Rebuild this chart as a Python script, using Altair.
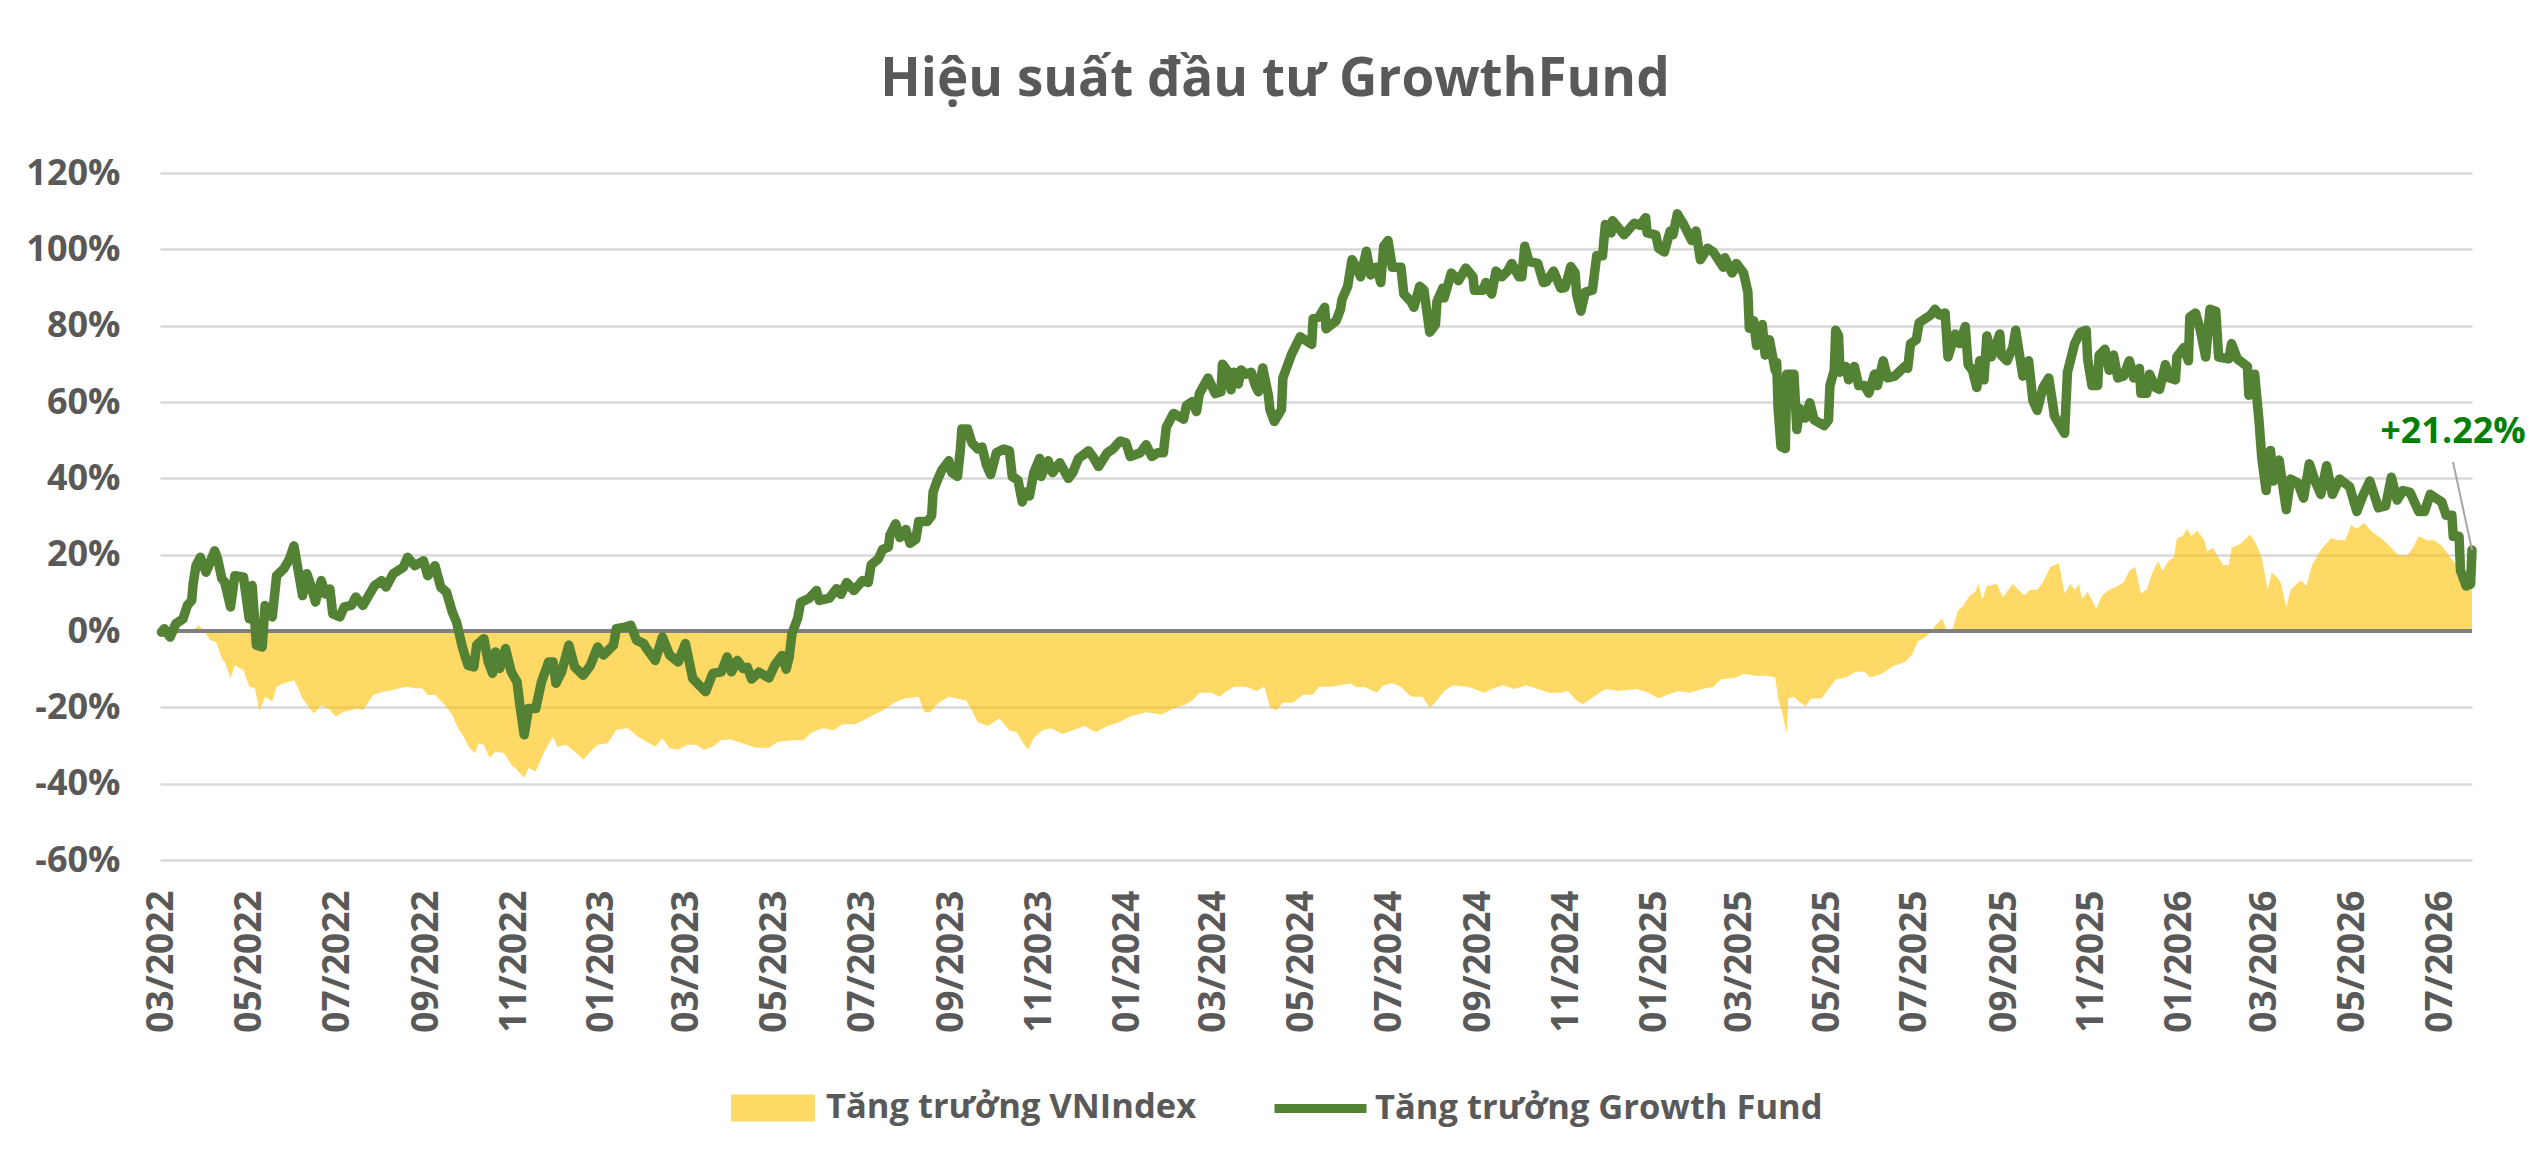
import pandas as pd
import altair as alt

# ---------------- data ----------------
START = "2022-03-01"  # day 0 of the series

TITLE = "Hiệu suất đầu tư GrowthFund"
VN_NAME = "Tăng trưởng VNIndex"
GF_NAME = "Tăng trưởng Growth Fund"

# Growth Fund cumulative growth: (days since START, percent)
GF_POINTS = [
    (0, -0.3), (2, 0.6), (6, -1.6), (10, 1.9), (15, 3.2), (18, 6.7), (21, 8.0), (22, 12.3), (24, 17.1), (27, 19.3),
    (31, 15.4), (37, 21.0), (39, 18.9), (42, 13.7), (44, 12.8), (48, 6.3), (51, 14.5), (57, 14.1), (61, 3.2), (63, 11.9),
    (66, -3.7), (70, -4.2), (72, 6.7), (77, 3.7), (80, 14.5), (85, 16.3), (89, 18.9), (92, 22.3), (94, 18.0), (98, 9.3),
    (101, 15.0), (103, 12.8), (107, 7.6), (111, 13.2), (114, 9.7), (117, 11.0), (119, 4.5), (124, 3.7), (127, 6.3), (132, 6.7),
    (135, 8.9), (140, 6.7), (148, 11.9), (153, 13.2), (156, 11.5), (161, 15.0), (168, 16.7), (171, 19.3), (176, 17.1), (182, 18.4),
    (185, 14.5), (190, 17.1), (194, 11.5), (198, 10.2), (202, 5.0), (205, 2.3), (209, -4.2), (213, -9.0), (217, -9.4), (219, -3.7),
    (224, -2.0), (227, -8.1), (230, -11.1), (232, -5.5), (235, -9.8), (239, -4.6), (243, -10.7), (247, -13.3), (249, -19.4), (252, -27.2),
    (255, -20.3), (260, -20.3), (264, -13.3), (269, -8.1), (272, -8.1), (274, -13.7), (278, -10.7), (283, -3.7), (287, -9.4), (293, -11.6),
    (298, -9.0), (303, -4.2), (307, -6.3), (314, -3.7), (316, 0.6), (322, 1.0), (326, 1.5), (330, -2.4), (335, -3.3), (337, -4.6),
    (343, -7.7), (348, -1.6), (353, -6.3), (359, -8.1), (364, -3.3), (369, -12.4), (378, -15.9), (383, -11.1), (389, -10.7), (393, -6.8),
    (396, -10.7), (400, -7.7), (404, -9.8),
    (407, -9.5), (410, -12.6), (415, -10.8), (422, -12.3), (426, -9.0), (431, -6.4), (434, -10.0), (436, -6.9), (438, -0.7), (442, 3.4),
    (444, 7.5), (450, 8.6), (455, 10.6), (457, 8.0), (464, 8.6), (469, 11.1), (472, 9.6), (476, 12.7), (481, 10.6), (487, 13.2),
    (491, 12.7), (493, 17.3), (498, 18.9), (501, 21.4), (505, 22.0), (506, 25.1), (510, 28.1), (513, 24.5), (517, 26.6), (520, 23.0),
    (524, 24.0), (526, 28.7), (532, 28.7), (535, 30.2), (536, 36.4), (539, 39.5), (542, 42.1), (547, 44.6), (549, 41.5), (553, 40.5),
    (555, 47.7), (556, 52.9), (560, 52.9), (563, 49.3), (567, 47.7), (570, 48.2), (573, 43.6), (576, 41.0), (580, 46.7), (585, 47.7),
    (589, 47.2), (591, 40.5), (595, 39.5), (598, 33.8), (600, 36.4), (603, 35.4), (606, 41.5), (610, 45.2), (611, 40.5), (616, 44.6),
    (619, 41.5), (624, 44.1), (630, 40.0), (633, 41.5), (637, 45.2), (644, 47.2), (647, 45.7), (651, 43.1), (657, 46.7), (661, 47.7),
    (666, 49.8), (670, 49.3), (673, 45.7), (680, 46.7), (684, 48.8), (688, 45.7), (692, 46.7), (696, 46.7), (698, 53.4), (703, 57.0),
    (710, 55.5), (712, 59.1), (716, 60.1), (719, 57.5), (721, 62.2), (727, 66.3), (732, 62.2), (736, 62.7), (737, 69.9), (740, 68.4),
    (743, 63.2), (745, 67.8), (748, 64.7), (750, 68.4), (753, 67.3), (757, 67.8), (760, 64.2), (762, 62.7), (765, 68.9), (769, 61.6),
    (770, 58.0), (773, 54.9), (778, 58.0), (779, 66.3), (785, 72.5), (791, 77.1), (799, 75.1), (800, 81.8), (804, 82.3), (808, 84.8),
    (809, 79.2),
    (816, 81.3), (819, 84.3), (820, 86.8), (824, 90.3), (827, 97.3), (830, 95.3), (833, 92.8), (837, 99.5), (840, 93.3), (844, 95.3),
    (847, 91.3), (849, 100.8), (852, 102.3), (855, 95.3), (861, 95.3), (863, 88.3), (868, 86.3), (870, 84.8), (874, 90.3), (877, 89.3),
    (881, 78.3), (885, 80.3), (886, 86.3), (890, 89.8), (891, 87.3), (896, 93.8), (901, 91.8), (906, 95.1), (911, 92.8), (912, 89.3),
    (918, 89.3), (920, 91.3), (924, 88.3), (927, 94.3), (931, 92.8), (935, 94.3), (938, 96.3), (943, 92.8), (945, 92.8), (947, 100.8),
    (950, 96.8), (956, 96.3), (960, 91.3), (962, 91.5), (967, 94.3), (972, 89.8), (975, 90.0), (979, 95.5), (982, 93.8), (983, 88.3),
    (986, 83.8), (989, 88.8), (994, 89.3), (997, 98.3), (1001, 98.3), (1003, 106.5), (1007, 104.3), (1008, 107.5), (1016, 103.8), (1023, 106.8),
    (1027, 106.3), (1031, 108.3), (1032, 104.3), (1038, 103.8), (1040, 100.3), (1044, 99.3), (1048, 104.8), (1050, 103.8), (1053, 109.3), (1057, 106.8),
    (1063, 102.3), (1066, 104.8), (1069, 97.3), (1074, 100.3), (1078, 99.3), (1085, 95.3), (1086, 97.8), (1091, 93.8), (1094, 96.3), (1099, 93.8),
    (1102, 88.8), (1103, 79.3), (1106, 81.3), (1108, 74.8), (1112, 80.3), (1114, 72.3), (1117, 76.3), (1121, 68.3), (1122, 70.3), (1123, 58.3),
    (1125, 48.3), (1128, 47.8), (1129, 67.3), (1134, 67.3), (1136, 52.8), (1138, 58.3), (1142, 55.8), (1145, 59.8), (1148, 55.3), (1155, 53.8),
    (1158, 55.3), (1159, 64.3), (1162, 68.3), (1163, 78.8), (1165, 77.3), (1166, 67.8), (1170, 69.3), (1172, 65.8), (1176, 69.3), (1179, 64.3),
    (1183, 64.3), (1186, 62.3), (1190, 67.3), (1192, 64.3), (1196, 70.8), (1199, 66.3), (1204, 66.8), (1211, 69.3), (1213, 68.8), (1215, 75.3),
    (1219, 76.3), (1221, 80.8), (1229, 82.8),
    (1232, 84.3), (1235, 82.8), (1239, 83.3), (1241, 71.8), (1243, 74.3), (1246, 77.8), (1249, 75.3), (1253, 79.8), (1255, 69.8), (1258, 68.3),
    (1261, 63.8), (1263, 70.8), (1266, 65.8), (1268, 77.3), (1271, 71.8), (1277, 77.8), (1278, 72.3), (1282, 70.8), (1286, 74.3), (1288, 78.8),
    (1293, 66.8), (1297, 70.8), (1300, 60.3), (1303, 57.8), (1307, 63.8), (1311, 66.3), (1315, 56.3), (1322, 51.8), (1324, 67.8), (1329, 75.3),
    (1333, 78.3), (1337, 78.8), (1338, 71.3), (1341, 64.3), (1345, 64.3), (1346, 72.3), (1350, 73.8), (1353, 68.3), (1356, 72.3), (1359, 66.3),
    (1363, 66.8), (1367, 70.8), (1370, 66.3), (1374, 68.8), (1375, 62.3), (1379, 62.3), (1381, 67.3), (1385, 63.8), (1388, 63.3), (1392, 69.8),
    (1395, 66.3), (1399, 65.8), (1400, 71.8), (1405, 74.3), (1408, 70.8), (1409, 82.3), (1413, 83.3), (1416, 79.3), (1420, 71.8), (1423, 84.3),
    (1427, 83.8), (1429, 71.8), (1436, 71.3), (1438, 75.3), (1442, 71.3), (1449, 69.3), (1450, 61.8), (1454, 67.3), (1457, 55.3), (1459, 45.3),
    (1462, 36.8), (1465, 47.3), (1467, 39.3), (1471, 44.8), (1476, 31.8), (1479, 39.8), (1484, 38.8), (1488, 34.8), (1492, 43.8), (1496, 39.3),
    (1500, 35.8), (1504, 43.3), (1508, 35.8), (1513, 39.8), (1520, 37.8), (1525, 31.3), (1529, 35.3), (1534, 39.3), (1540, 32.3), (1545, 32.8),
    (1549, 40.3), (1553, 34.3), (1557, 36.8), (1562, 36.3), (1568, 31.3), (1572, 31.3), (1576, 35.8), (1580, 34.8), (1584, 33.8), (1587, 30.3),
    (1591, 30.3), (1592, 24.8), (1596, 24.8), (1597, 15.8), (1601, 11.8), (1604, 12.3), (1605, 21.22),
]

# VNIndex cumulative growth: (days since START, percent)
VN_POINTS = [
    (0, -1.1), (6, -2.9), (13, 0.2), (19, -0.7), (26, 1.5), (29, 0.2), (34, -2.4), (38, -2.9), (42, -7.2), (44, -8.1),
    (48, -12.4), (51, -9.0), (57, -10.3), (61, -14.6), (65, -15.0), (68, -21.1), (72, -17.2), (77, -18.5), (80, -14.6), (85, -13.7),
    (92, -12.9), (94, -14.2), (98, -17.7), (103, -20.3), (106, -21.6), (111, -19.4), (117, -20.7), (121, -22.4), (127, -21.1), (132, -20.7),
    (136, -20.3), (140, -20.7), (147, -16.8), (154, -15.9), (160, -15.5), (165, -15.0), (170, -14.6), (176, -15.0), (181, -15.0), (185, -16.8),
    (190, -16.8), (197, -19.4), (202, -22.0), (206, -25.5), (210, -27.7), (214, -30.7), (218, -32.0), (220, -29.4), (224, -29.8), (228, -33.3),
    (232, -31.6), (238, -32.0), (243, -35.0), (248, -36.8), (252, -38.5), (255, -35.9), (260, -36.8), (266, -31.6), (272, -27.7), (275, -30.3),
    (281, -29.8), (287, -31.6), (293, -33.7), (298, -31.6), (303, -29.8), (310, -29.4), (316, -25.9), (324, -25.5), (331, -27.7), (337, -29.0),
    (343, -30.3), (348, -28.1), (353, -30.7), (359, -31.1), (365, -29.8), (371, -29.8), (377, -31.1), (383, -30.3), (389, -28.5), (396, -28.5),
    (413, -30.6), (422, -30.6), (428, -29.1), (439, -28.6), (446, -28.6), (452, -26.5), (459, -25.5), (467, -26.0), (473, -24.4), (482, -24.4),
    (490, -22.9), (495, -21.9), (501, -20.8), (509, -18.8), (516, -17.7), (526, -17.2), (530, -21.3), (534, -21.3), (540, -18.8), (547, -17.2),
    (552, -17.7), (559, -18.2), (563, -20.8), (567, -23.9), (574, -24.9), (582, -22.9), (589, -26.0), (594, -26.5), (599, -29.6), (602, -31.1),
    (606, -28.0), (612, -26.0), (618, -25.5), (626, -27.0), (633, -26.0), (641, -24.9), (649, -26.5), (657, -24.9), (665, -23.9), (673, -22.4),
    (684, -21.3), (695, -21.9), (703, -20.3), (711, -19.3), (716, -18.2), (721, -16.2), (729, -16.2), (735, -17.2), (740, -15.7), (745, -14.6),
    (753, -14.6), (761, -15.7), (766, -14.6), (770, -19.8), (774, -20.8), (779, -18.8), (786, -18.8), (793, -16.7), (800, -16.7), (804, -14.6),
    (812, -14.6),
    (819, -14.2), (826, -13.7), (830, -14.7), (836, -14.7), (844, -16.2), (849, -14.2), (855, -13.7), (861, -14.7), (868, -17.2), (876, -17.2),
    (881, -20.2), (886, -18.2), (891, -15.7), (897, -14.2), (908, -14.7), (919, -16.2), (924, -15.2), (932, -14.2), (940, -15.2), (948, -14.2),
    (956, -15.2), (964, -16.2), (972, -16.2), (977, -15.7), (983, -18.2), (987, -19.2), (995, -17.2), (1003, -15.2), (1012, -15.7), (1025, -15.2),
    (1033, -16.2), (1040, -17.7), (1046, -16.7), (1054, -15.7), (1062, -16.2), (1070, -15.2), (1078, -14.7), (1083, -12.7), (1094, -12.2), (1099, -11.2),
    (1107, -11.7), (1115, -11.7), (1121, -12.2), (1123, -17.7), (1126, -21.7), (1129, -26.7), (1130, -17.7), (1134, -17.2), (1138, -18.7), (1142, -19.7),
    (1146, -17.7), (1153, -17.7), (1158, -15.2), (1163, -12.7), (1170, -12.2), (1177, -10.7), (1183, -10.7), (1187, -12.2), (1195, -11.2), (1203, -9.2),
    (1211, -8.2), (1216, -6.2), (1220, -2.7), (1225, -1.7), (1229, -0.2),
    (1232, 1.3), (1237, 3.3), (1240, 0.3), (1244, 0.3), (1248, 5.3), (1252, 6.8), (1256, 9.3), (1260, 10.3), (1262, 12.3), (1265, 8.3),
    (1268, 11.8), (1275, 12.3), (1279, 8.8), (1286, 12.3), (1294, 9.3), (1298, 10.8), (1303, 10.8), (1307, 12.8), (1312, 16.8), (1318, 17.8),
    (1322, 9.8), (1326, 12.3), (1329, 10.8), (1332, 12.3), (1334, 8.3), (1338, 10.3), (1344, 5.8), (1348, 9.3), (1353, 10.8), (1359, 11.8),
    (1363, 12.8), (1367, 15.8), (1371, 16.8), (1375, 9.8), (1379, 10.8), (1383, 15.3), (1387, 18.3), (1390, 15.8), (1394, 18.3), (1398, 19.3),
    (1400, 24.3), (1404, 24.8), (1407, 26.8), (1410, 24.8), (1414, 26.3), (1419, 23.8), (1421, 20.8), (1425, 21.8), (1432, 17.3), (1436, 17.3),
    (1438, 21.8), (1444, 22.8), (1451, 25.3), (1455, 22.8), (1459, 19.3), (1463, 10.8), (1466, 15.3), (1470, 13.8), (1472, 12.8), (1476, 6.3),
    (1479, 10.8), (1486, 13.3), (1490, 11.8), (1494, 17.3), (1500, 21.3), (1507, 24.3), (1512, 23.8), (1517, 23.8), (1521, 27.8), (1525, 26.8),
    (1530, 28.3), (1536, 25.8), (1542, 24.3), (1549, 21.8), (1554, 19.8), (1560, 19.8), (1564, 21.8), (1568, 24.8), (1574, 23.8), (1579, 23.8),
    (1584, 22.3), (1589, 19.8), (1595, 16.8), (1600, 13.3), (1605, 12.0),
]

TICK_MONTHS = [
    "2022-03", "2022-05", "2022-07", "2022-09", "2022-11",
    "2023-01", "2023-03", "2023-05", "2023-07", "2023-09", "2023-11",
    "2024-01", "2024-03", "2024-05", "2024-07", "2024-09", "2024-11",
    "2025-01", "2025-03", "2025-05", "2025-07", "2025-09", "2025-11",
    "2026-01", "2026-03", "2026-05", "2026-07",
]
Y_TICKS = [-60, -40, -20, 0, 20, 40, 60, 80, 100, 120]

# ---------------- build tables ----------------
start = pd.Timestamp(START)
gf = pd.DataFrame(GF_POINTS, columns=["day", "v"])
gf["date"] = start + pd.to_timedelta(gf["day"], unit="D")
gf["i"] = range(len(gf))
gf["s"] = GF_NAME

vn = pd.DataFrame(VN_POINTS, columns=["day", "v"])
vn["date"] = start + pd.to_timedelta(vn["day"], unit="D")
vn["s"] = VN_NAME

last = gf.iloc[[-1]].copy()
last["label"] = "+" + last["v"].map(lambda x: f"{x:.2f}") + "%"


def dt(ts):
    return alt.DateTime(year=ts.year, month=ts.month, date=ts.day)


x_lo = start - pd.Timedelta(days=1)
x_hi = gf["date"].iloc[-1]
tick_vals = [alt.DateTime(year=int(m[:4]), month=int(m[5:]), date=1) for m in TICK_MONTHS]

FONT = "Open Sans"
GRAY = "#595959"
GREEN = "#548235"

x_enc = alt.X(
    "date:T",
    title=None,
    scale=alt.Scale(domain=[dt(x_lo), dt(x_hi)]),
    axis=alt.Axis(
        values=tick_vals, format="%m/%Y", labelAngle=270, grid=False, domain=False,
        ticks=False, tickSize=0, labelPadding=30, labelFont=FONT, labelFontSize=37,
        labelFontWeight="bold", labelColor=GRAY, labelOverlap=False, labelFlush=False,
        labelBound=False,
    ),
)
y_enc = alt.Y(
    "v:Q",
    title=None,
    scale=alt.Scale(domain=[-60, 120], nice=False, zero=False),
    axis=alt.Axis(
        values=Y_TICKS, labelExpr="datum.value + '%'", grid=True, gridColor="#D9D9D9",
        gridWidth=2.5, domain=False, ticks=False, tickSize=0, labelPadding=40,
        labelFont=FONT, labelFontSize=36, labelFontWeight="bold", labelColor=GRAY,
        labelFlush=False, labelBound=False,
    ),
)

area = alt.Chart(vn).mark_area(opacity=0.6, interpolate="linear").encode(
    x=x_enc,
    y=y_enc,
    color=alt.Color(
        "s:N",
        scale=alt.Scale(domain=[VN_NAME], range=["#FFC000"]),
        legend=alt.Legend(
            title=None, orient="none", legendX=571, legendY=893, padding=0,
            symbolType="M-1,-0.32H1V0.32H-1Z", symbolSize=7056, symbolStrokeWidth=0,
            symbolOpacity=0.6, labelFont=FONT, labelFontSize=34.5, labelFontWeight="bold",
            labelColor=GRAY, labelOffset=11, labelLimit=0,
        ),
    ),
)

zero = alt.Chart(vn).mark_rule(color="#808080", strokeWidth=3).encode(y=alt.datum(0))

line = alt.Chart(gf).mark_line(strokeWidth=9.5, strokeCap="round", strokeJoin="round").encode(
    x=x_enc,
    y=y_enc,
    order="i:Q",
    stroke=alt.Stroke(
        "s:N",
        scale=alt.Scale(domain=[GF_NAME], range=[GREEN]),
        legend=alt.Legend(
            title=None, orient="none", legendX=1110, legendY=885, padding=0,
            symbolType="stroke", symbolSize=8464, symbolStrokeWidth=9,
            labelFont=FONT, labelFontSize=34.5, labelFontWeight="bold",
            labelColor=GRAY, labelOffset=4, labelLimit=0,
        ),
    ),
)

leader = alt.Chart(last).mark_rule(color="#A6A6A6", strokeWidth=2, x2Offset=-19, y2Offset=-88).encode(
    x=x_enc, x2="date:T", y=y_enc, y2="v:Q"
)

label = alt.Chart(last).mark_text(
    font=FONT, fontSize=36, fontWeight="bold", color="#008000",
    align="center", baseline="alphabetic", dx=-19, dy=-107,
).encode(x=x_enc, y=y_enc, text="label:N")

chart = (
    alt.layer(area, zero, line, leader, label)
    .resolve_scale(color="independent", stroke="independent")
    .properties(
        width=2312,
        height=687,
        autosize=alt.AutoSizeParams(type="none"),
        padding={"left": 152, "top": 165, "right": 60, "bottom": 304},
        title=alt.TitleParams(
            text=TITLE, font=FONT, fontSize=53, fontWeight="bold", color=GRAY,
            anchor="middle", frame="group", baseline="alphabetic", offset=6, dx=-41,
        ),
    )
    .configure(background="white", view=alt.ViewConfig(stroke=None))
)

chart.save("out.html", embed_options={"renderer": "svg", "actions": False})
